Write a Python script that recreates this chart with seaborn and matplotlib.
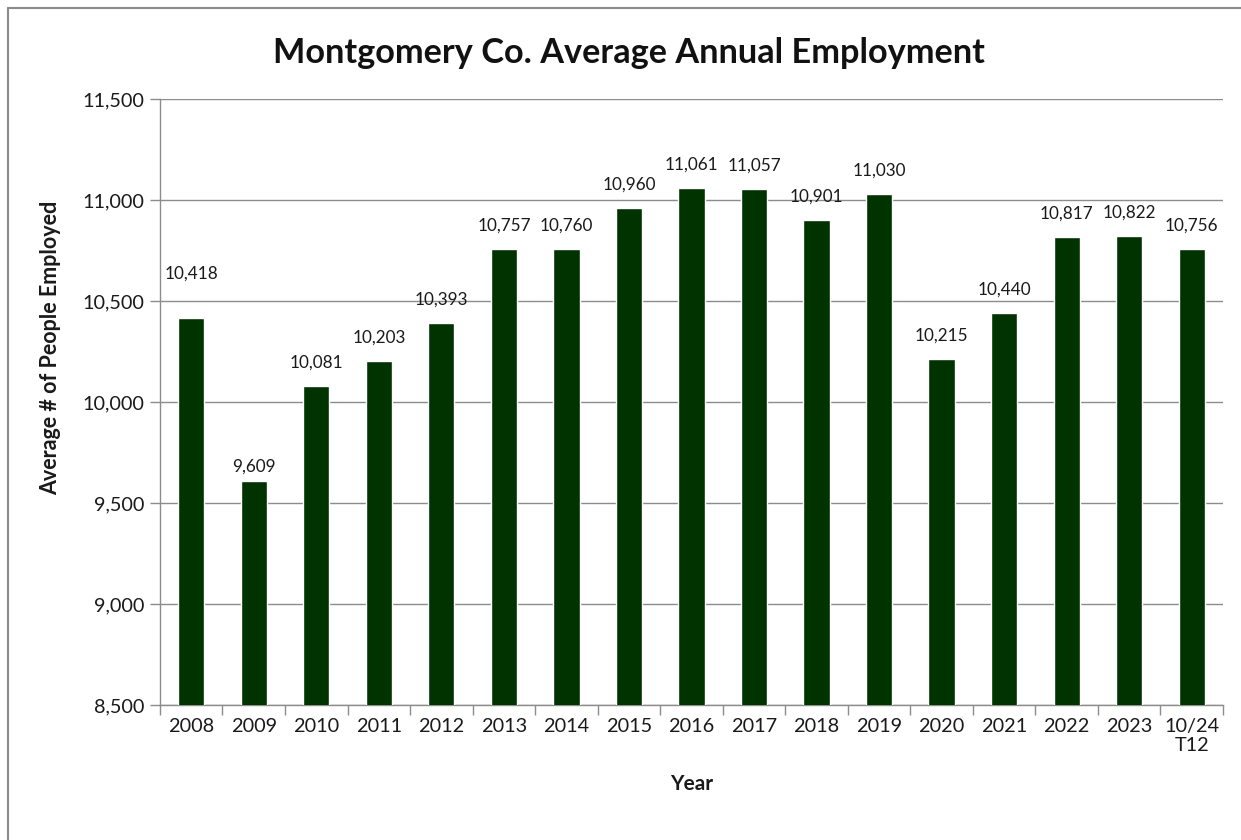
import matplotlib
matplotlib.use("Agg")
import matplotlib.pyplot as plt
from matplotlib.lines import Line2D
import numpy as np
import pandas as pd
import seaborn as sns

# Annual average employment, Montgomery County
years = ["2008", "2009", "2010", "2011", "2012", "2013", "2014", "2015", "2016",
         "2017", "2018", "2019", "2020", "2021", "2022", "2023", "10/24\nT12"]
employment = [10418, 9609, 10081, 10203, 10393, 10757, 10760, 10960, 11061,
              11057, 10901, 11030, 10215, 10440, 10817, 10822, 10756]
y_ticks = [8500, 9000, 9500, 10000, 10500, 11000, 11500]

BAR_COLOR = "#013301"
GRID_COLOR = "#8c8c8c"
TEXT_COLOR = "#1a1a1a"

sns.set_theme(style="white")
plt.rcParams["font.family"] = ["Lato", "DejaVu Sans"]

df = pd.DataFrame({"Year": years, "Employment": employment})

W, H = 1241, 840
fig = plt.figure(figsize=(W / 100, H / 100), dpi=100)
ax = fig.add_axes([0.1289, 0.1607, 0.8566, 0.7214])

sns.barplot(data=df, x="Year", y="Employment", color=BAR_COLOR,
            width=0.42, saturation=1, ax=ax, zorder=3)

ax.set_ylim(y_ticks[0], y_ticks[-1])
ax.set_yticks(y_ticks)
ax.set_yticklabels([f"{v:,}" for v in y_ticks])
ax.set_xlim(-0.5, len(years) - 0.5)

# horizontal gridlines
ax.yaxis.grid(True, color=GRID_COLOR, linewidth=1.0, zorder=0)
ax.xaxis.grid(False)
ax.set_axisbelow(True)

for side in ("top", "right"):
    ax.spines[side].set_visible(False)
for side in ("left", "bottom"):
    ax.spines[side].set_color(GRID_COLOR)
    ax.spines[side].set_linewidth(1.0)

# tick marks sit between categories on the x axis
ax.set_xticks(np.arange(-0.5, len(years), 1.0), minor=True)
ax.tick_params(axis="x", which="minor", length=7, width=1, color=GRID_COLOR,
               direction="out", bottom=True)
ax.tick_params(axis="x", which="major", length=0, labelsize=14.3,
               labelcolor=TEXT_COLOR, pad=9)
ax.tick_params(axis="y", which="major", length=7, width=1, color=GRID_COLOR,
               direction="out", left=True, labelsize=14.3,
               labelcolor=TEXT_COLOR, pad=4)

ax.set_xlabel("Year", fontsize=15, fontweight="bold", color=TEXT_COLOR,
              labelpad=14)
ax.set_ylabel("Average # of People Employed", fontsize=15.5, fontweight="bold",
              color=TEXT_COLOR)
ax.yaxis.set_label_coords(-0.093, 0.59)

# value labels above each bar (a couple are lifted/lowered by hand)
label_nudge = {"2008": 21, "2009": -9}
for i, (yr, v) in enumerate(zip(years, employment)):
    ax.annotate(f"{v:,}", xy=(i, v),
                xytext=(0, 11 + label_nudge.get(yr, 0) * 0.72),
                textcoords="offset points", ha="center", va="bottom",
                fontsize=12.3, color=TEXT_COLOR, zorder=4)

fig.text(0.507, 0.937, "Montgomery Co. Average Annual Employment",
         ha="center", va="center", fontsize=24.7, fontweight="bold",
         color="#111111")

# chart area frame
fig.add_artist(Line2D([8 / W, 1.0], [1 - 8 / H, 1 - 8 / H],
                      transform=fig.transFigure, color="#8a8a8a", linewidth=1.5))
fig.add_artist(Line2D([8 / W, 8 / W], [0.0, 1 - 8 / H],
                      transform=fig.transFigure, color="#8a8a8a", linewidth=1.5))

fig.savefig("out.png", dpi=100, facecolor="white")
